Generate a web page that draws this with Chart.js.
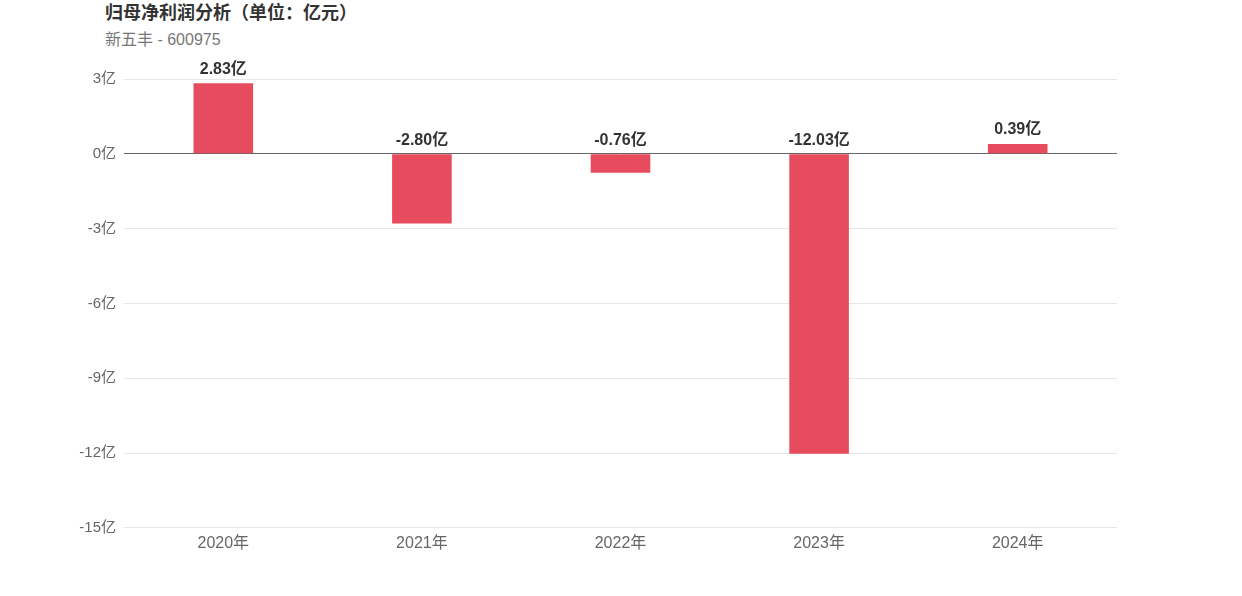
<!DOCTYPE html>
<html><head><meta charset="utf-8">
<script src="https://cdn.jsdelivr.net/npm/chart.js@4/dist/chart.umd.min.js"></script>
<style>
html,body{margin:0;padding:0;background:#fff;}
#wrap{position:relative;width:1242px;height:596px;}
#title{position:absolute;left:105px;top:-2px;font:bold 18px "Liberation Sans","Noto Sans CJK SC",sans-serif;color:#333;}
#sub{position:absolute;left:105px;top:26px;font:16px "Liberation Sans","Noto Sans CJK SC",sans-serif;color:#777;}
canvas{position:absolute;left:0;top:0;}
</style></head>
<body><div id="wrap">
<div id="title">归母净利润分析（单位：亿元）</div>
<div id="sub">新五丰 - 600975</div>
<canvas id="c" width="1242" height="596"></canvas>
</div>
<script>
const categories = ["2020年","2021年","2022年","2023年","2024年"];
const profits = [2.83, -2.80, -0.76, -12.03, 0.39];
const yTicks = [3, 0, -3, -6, -9, -12, -15];
const FONT = '"Liberation Sans","Noto Sans CJK SC",sans-serif';

const labelPlugin = {
  id: 'barLabels',
  afterDatasetsDraw(chart) {
    const ctx = chart.ctx;
    const meta = chart.getDatasetMeta(0);
    ctx.save();
    ctx.font = 'bold 16px ' + FONT;
    ctx.fillStyle = '#333';
    ctx.textAlign = 'center';
    ctx.textBaseline = 'bottom';
    meta.data.forEach((bar, i) => {
      const top = Math.min(bar.y, bar.base);
      ctx.fillText(profits[i].toFixed(2) + '亿', bar.x, top - 6);
    });
    ctx.restore();
  }
};

new Chart(document.getElementById('c'), {
  type: 'bar',
  data: {
    labels: categories,
    datasets: [{
      data: profits,
      backgroundColor: '#e64b5e',
      categoryPercentage: 1,
      barPercentage: 0.3
    }]
  },
  options: {
    responsive: false,
    animation: false,
    layout: { padding: { left: 0, right: 125, top: 79, bottom: 45 } },
    plugins: { legend: { display: false }, tooltip: { enabled: false }, title: { display: false } },
    scales: {
      x: {
        grid: { display: false },
        border: { display: false },
        ticks: { color: '#666', font: { size: 16, family: FONT }, padding: -2 }
      },
      y: {
        min: -15, max: 3,
        afterBuildTicks(axis) { axis.ticks = yTicks.map(v => ({ value: v })); },
        afterFit(axis) { axis.width = 124; },
        border: { display: false },
        grid: {
          color: ctx => ctx.tick && ctx.tick.value === 0 ? '#666' : '#e6e6e6',
          drawTicks: true,
          tickLength: 8,
          tickColor: 'rgba(0,0,0,0)'
        },
        ticks: {
          color: '#666',
          font: { size: 15, family: FONT },
          padding: 0,
          callback: v => v + '亿'
        }
      }
    }
  },
  plugins: [labelPlugin]
});
</script>
</body></html>
